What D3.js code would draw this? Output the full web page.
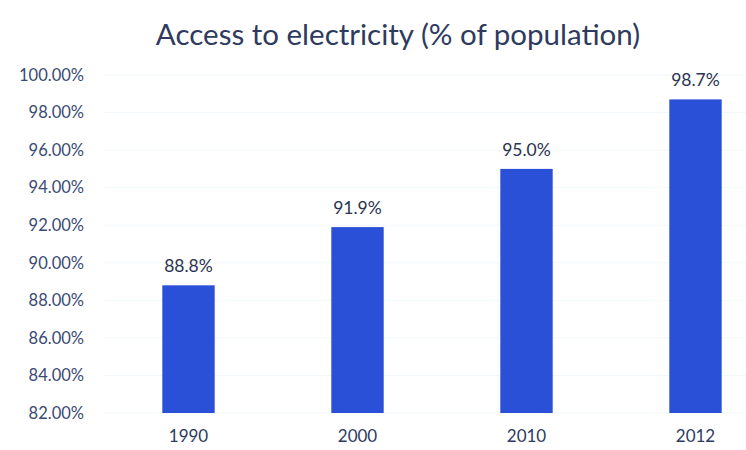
<!DOCTYPE html>
<html><head><meta charset="utf-8">
<script src="https://cdn.jsdelivr.net/npm/d3@7"></script>
<style>body{margin:0;background:#fff}svg{display:block}</style>
</head><body>
<script>
const categories = ["1990", "2000", "2010", "2012"];
const values = [88.8, 91.9, 95.0, 98.7];
const valueLabels = ["88.8%", "91.9%", "95.0%", "98.7%"];
const yTicks = [82, 84, 86, 88, 90, 92, 94, 96, 98, 100];
const title = "Access to electricity (% of population)";

const W = 746, H = 450;
const svg = d3.select("body").append("svg").attr("width", W).attr("height", H);
const font = "Lato, 'Open Sans', sans-serif";

const y = d3.scaleLinear().domain([82, 100]).range([413, 75]);
const x = d3.scaleBand().domain(categories).range([104, 780]).paddingInner(0.69).paddingOuter(0.345);

svg.append("text").attr("x", 398).attr("y", 45).attr("text-anchor", "middle")
  .attr("font-family", font).attr("font-size", 29.5).attr("fill", "#2e3b5e").text(title);

// faint gridlines
svg.append("g").selectAll("line").data(yTicks).join("line")
  .attr("x1", 104).attr("x2", 746).attr("y1", d => y(d)).attr("y2", d => y(d))
  .attr("stroke", "#f1f7fb").attr("stroke-width", 1);

const yAxis = d3.axisLeft(y).tickValues(yTicks).tickSize(0).tickPadding(0)
  .tickFormat(d => d3.format(".2f")(d) + "%");
const ga = svg.append("g").attr("transform", "translate(84,0)").call(yAxis);
ga.select(".domain").remove();
ga.selectAll("text").attr("font-family", font).attr("font-size", 16.5).attr("fill", "#3a4a72");

const xAxis = d3.axisBottom(x).tickSize(0).tickPadding(0);
const gx = svg.append("g").attr("transform", "translate(0,430)").call(xAxis);
gx.select(".domain").remove();
gx.selectAll("text").attr("font-family", font).attr("font-size", 17).attr("fill", "#2e3b5e");

svg.append("g").selectAll("rect").data(values).join("rect")
  .attr("x", (d, i) => x(categories[i])).attr("width", x.bandwidth())
  .attr("y", d => y(d)).attr("height", d => y(82) - y(d))
  .attr("fill", "#2a50d8");

svg.append("g").selectAll("text").data(values).join("text")
  .attr("x", (d, i) => x(categories[i]) + x.bandwidth() / 2)
  .attr("y", d => y(d) - 13).attr("text-anchor", "middle")
  .attr("font-family", font).attr("font-size", 17.5).attr("fill", "#2a3350")
  .text((d, i) => valueLabels[i]);
</script>
</body></html>
